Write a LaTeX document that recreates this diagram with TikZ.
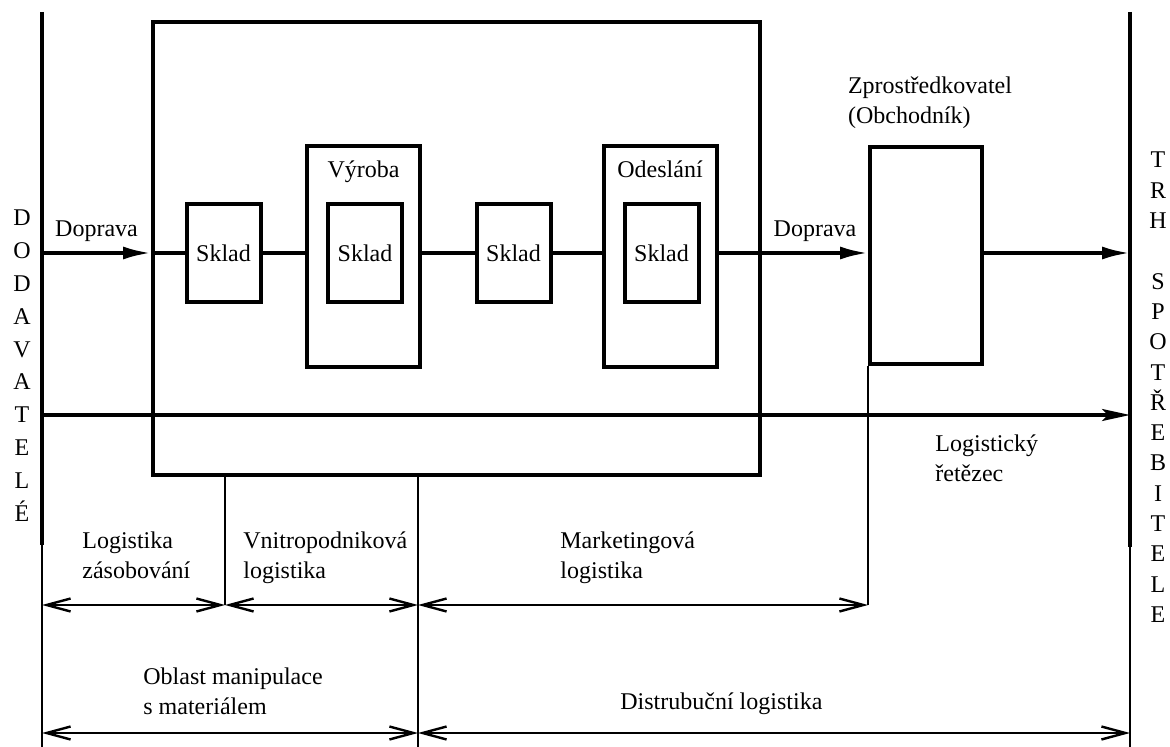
\documentclass[tikz,border=0pt]{standalone}
\usepackage{fontspec}
\setmainfont{Liberation Serif}
\usetikzlibrary{arrows.meta,positioning}
\tikzset{
  box/.style={draw, line width=2pt, inner sep=0pt, font=\fontsize{12}{15}\selectfont},
  skladbox/.style={box, minimum width=37pt, minimum height=49pt},
  tallbox/.style={box, minimum width=56.5pt, minimum height=110.5pt},
  txt/.style={inner sep=0pt, align=left, font=\fontsize{12}{15}\selectfont},
  letter/.style={inner sep=0pt, anchor=base, font=\fontsize{12}{15}\selectfont},
  flow/.style={line width=1.8pt},
  flowarrow/.style={line width=1.8pt, -{Latex[length=14pt,width=6.5pt]}},
  chainarrow/.style={line width=1.6pt, -{Stealth[length=14pt,width=6pt,inset=3pt]}},
  dimline/.style={line width=1.2pt},
  dimarrow/.style={line width=1.2pt, {Straight Barb[length=12pt,width=6.5pt]}-{Straight Barb[length=12pt,width=6.5pt]}}
}
\begin{document}
\begin{tikzpicture}[x=0.5pt,y=-0.5pt]
\useasboundingbox (0,0) rectangle (1170,747);
% side lines
\coordinate (dodTop) at (42,12);
\coordinate (dodMid) at (42,545);
\coordinate (dodBot) at (42,747);
\coordinate (trhTop) at (1130,12);
\coordinate (trhMid) at (1130,547);
\coordinate (trhBot) at (1130,747);
\draw[flow, line width=2.2pt] (dodTop) -- (dodMid);
\draw[dimline] (dodMid) -- (dodBot);
\draw[flow, line width=2.2pt] (trhTop) -- (trhMid);
\draw[dimline] (trhMid) -- (trhBot);

% boxes
\node[box, minimum width=303.5pt, minimum height=226.5pt] (podnik) at (456.5,248.5) {};
\node[skladbox] (sklad1) at (223.5,253) {Sklad};
\node[tallbox] (vyroba) at (363.5,256.5) {};
\node[skladbox] (sklad2) at (365,253) {Sklad};
\node[skladbox] (sklad3) at (513.5,253) {Sklad};
\node[tallbox] (odeslani) at (660,256.5) {};
\node[skladbox] (sklad4) at (661.5,253) {Sklad};
\node[box, minimum width=56pt, minimum height=108.5pt] (zprost) at (926,255.5) {};
\node[txt, below=8pt of vyroba.north] (vyrobaT) {Výroba};
\node[txt, below=8pt of odeslani.north] (odeslaniT) {Odeslání};
\node[txt, above=8pt of zprost.north, xshift=2pt] (zprostT) {Zprostředkovatel\\(Obchodník)};

% material flow
\coordinate (dodFlow) at (dodTop |- sklad1);
\draw[flowarrow] (dodFlow) -- node[txt, above=5pt] (doprava1) {Doprava} (dodFlow -| podnik.west);
\draw[flow] (dodFlow -| podnik.west) -- (sklad1.west);
\draw[flow] (sklad1.east) -- (sklad1.east -| vyroba.west);
\draw[flow] (sklad1.east -| vyroba.east) -- (sklad3.west);
\draw[flow] (sklad3.east) -- (sklad3.east -| odeslani.west);
\draw[flow] (sklad3.east -| odeslani.east) -- (sklad3.east -| podnik.east);
\draw[flowarrow] (sklad3.east -| podnik.east) -- node[txt, above=5pt] (doprava2) {Doprava} (sklad3.east -| zprost.west);
\draw[flowarrow] (sklad3.east -| zprost.east) -- (sklad3.east -| trhTop);

% logistic chain
\coordinate (retezL) at (42,415);
\draw[chainarrow] (retezL) -- (retezL -| trhTop);
\node[txt, anchor=north west] (retezecT) at (935,434) {Logistický\\řetězec};

% dimension lines
\coordinate (zasob) at (225,605);
\coordinate (vnitro) at (418,605);
\coordinate (market) at (zprost.south west |- zasob);
\coordinate (oblast) at (418,733);
\draw[dimline] (zasob |- podnik.south) -- (zasob);
\draw[dimline] (vnitro |- podnik.south) -- (vnitro |- dodBot);
\draw[dimline] (zprost.south west) -- (market);
\draw[dimarrow] (dodBot |- zasob) -- (zasob);
\draw[dimarrow] (zasob) -- (vnitro);
\draw[dimarrow] (vnitro) -- (market);
\draw[dimarrow] (dodBot |- oblast) -- (oblast);
\draw[dimarrow] (oblast) -- (trhBot |- oblast);

\node[txt, anchor=north west] (zasobT) at (82,531) {Logistika\\zásobování};
\node[txt, anchor=north west] (vnitroT) at (243,531) {Vnitropodniková\\logistika};
\node[txt, anchor=north west] (marketT) at (560,531) {Marketingová\\logistika};
\node[txt, anchor=north west] (oblastT) at (143,667) {Oblast manipulace\\s materiálem};
\node[txt, anchor=north west] (distribT) at (620,692) {Distrubuční logistika};

% vertical words
\foreach \ch [count=\i from 0] in {D,O,D,A,V,A,T,E,L,É}
  \node[letter] (dod\i) at (22,226+32.8*\i) {\ch};
\foreach \ch [count=\i from 0] in {T,R,H}
  \node[letter] (trh\i) at (1158,168+30.3*\i) {\ch};
\foreach \ch [count=\i from 4] in {S,P,O,T,Ř,E,B,I,T,E,L,E}
  \node[letter] (spotr\i) at (1158,168+30.3*\i) {\ch};
\end{tikzpicture}
\end{document}
